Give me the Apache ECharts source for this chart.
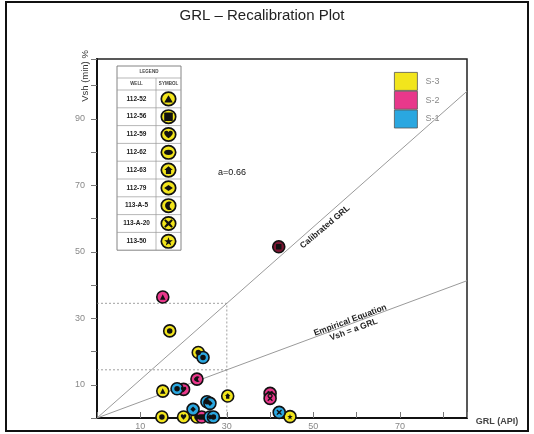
<!DOCTYPE html>
<html><head><meta charset="utf-8">
<script src="https://cdn.jsdelivr.net/npm/echarts@6/dist/echarts.min.js"></script>
<style>html,body{margin:0;padding:0;background:#fff}#c{width:534px;height:434px}</style>
</head><body><div id="c"></div>
<script>
// ---- data ----
const grl  = [15.2,16.8,23.4,24.5,23.1,15.2,18.5,20.0,30.2,25.4,26.1,22.2,15.0,20.0,23.1,24.2,26.1,26.9,40.0,40.0,42.1,44.6,42.0];
const vsh  = [36.4,26.2,19.7,18.2,11.7,8.1,8.8,8.6,6.6,4.9,4.4,2.6,0.3,0.3,0.3,0.3,0.3,0.3,7.4,5.9,1.7,0.4,51.5];
const zone = ['S-2','S-3','S-3','S-1','S-2','S-3','S-1','S-2','S-3','S-1','S-1','S-1','S-3','S-3','S-3','S-2','S-1','S-1','S-2','S-2','S-1','S-3','S-0'];
const well = ['112-52','112-62','112-62','112-62','113-A-5','112-52','112-62','112-59','112-63','112-62','112-79','112-79','112-62','112-59','112-62','112-56','112-79','112-62','113-A-20','113-A-20','113-A-20','113-50','112-56'];
const zones = ['S-3','S-2','S-1'];
const wells = ['112-52','112-56','112-59','112-62','112-63','112-79','113-A-5','113-A-20','113-50'];
const calibratedLine = [[0,0],[85.5,98.3]];
const empiricalLine  = [[0,0],[85.5,41.3]];
const dashUpper = [[0,34.5],[30,34.5],[30,0]];
const dashLower = [[0,14.5],[30,14.5]];
const xTicksShown = [10,30,50,70];
const yTicksShown = [10,30,50,70,90];

// ---- styles ----
const zoneColor = {'S-3':'#f2e51c','S-2':'#e8388b','S-1':'#2aa7e0','S-0':'#7a1632'};
const P = {
  heart:'M12,21 C5,15 0,11 0,6 C0,2.5 2.5,0 6,0 C8.5,0 10.5,1.5 12,3.5 C13.5,1.5 15.5,0 18,0 C21.5,0 24,2.5 24,6 C24,11 19,15 12,21 Z',
  star:'M12,0 L14.9,8.3 L23.4,8.3 L16.6,13.5 L19.1,21.8 L12,16.8 L4.9,21.8 L7.4,13.5 L0.6,8.3 L9.1,8.3 Z',
  moon:'M16,3 A10,10 0 1 0 16,19 A9,9 0 0 1 16,3 Z',
  cross:'M3,0 L10,6 L17,0 L20,3 L14,10 L20,17 L17,20 L10,14 L3,20 L0,17 L6,10 L0,3 Z',
  house:'M10,0 L20,9 L16,9 L16,18 L4,18 L4,9 L0,9 Z',
  oval:'M0,6 A10,6 0 1 0 20,6 A10,6 0 1 0 0,6 Z',
  tri:'M10,0 L20,17 L0,17 Z',
  sq:'M2,0 L18,0 Q20,0 20,2 L20,18 Q20,20 18,20 L2,20 Q0,20 0,18 L0,2 Q0,0 2,0 Z',
  dia:'M10,0 L20,7 L10,14 L0,7 Z'
};
const glyph = {'112-52':P.tri,'112-56':P.sq,'112-59':P.heart,'112-62':P.oval,'112-63':P.house,'112-79':P.dia,'113-A-5':P.moon,'113-A-20':P.cross,'113-50':P.star};

const series = [];
series.push({type:'line',data:calibratedLine,symbol:'none',silent:true,lineStyle:{color:'#9a9a9a',width:1},z:1});
series.push({type:'line',data:empiricalLine,symbol:'none',silent:true,lineStyle:{color:'#9a9a9a',width:1},z:1});
series.push({type:'line',data:dashUpper,symbol:'none',silent:true,lineStyle:{color:'#888',width:0.8,type:[2,2]},z:1});
series.push({type:'line',data:dashLower,symbol:'none',silent:true,lineStyle:{color:'#888',width:0.8,type:[2,2]},z:1});
['S-0','S-3','S-2','S-1'].forEach(z=>{
  const d=[]; grl.forEach((x,i)=>{ if(zone[i]===z) d.push([x,vsh[i]]); });
  series.push({name:z,type:'scatter',data:d,symbol:'circle',symbolSize:12,z:3,
    itemStyle:{color:zoneColor[z],borderColor:'#111',borderWidth:1.6,opacity:1}});
});
series.push({type:'scatter',z:4,silent:true,
  data:grl.map((x,i)=>({value:[x,vsh[i]],symbol:'path://'+glyph[well[i]],symbolSize:5.5})),
  itemStyle:{color:'#111',opacity:1}});

// ---- legend table ----
const tx=117, ty=66, tw=64, colX=156, h1=12, h2=12, rowH=17.8;
const tH = h1+h2+rowH*wells.length;
series.push({type:'custom',coordinateSystem:'none',silent:true,z:20,
  data:wells.map((w,i)=>[i]),
  renderItem:function(params,api){
    const i = api.value(0); const w = wells[i];
    const y0 = ty+h1+h2+rowH*i, cy=y0+rowH/2, cx=(colX+tx+tw)/2;
    return {type:'group',children:[
      {type:'ellipse',shape:{cx:cx,cy:cy,rx:7.2,ry:6.7},style:{fill:'#f2e51c',stroke:'#111',lineWidth:1.7}},
      {type:'path',shape:{pathData:glyph[w],x:cx-4.3,y:cy-4.3,width:8.6,height:8.6,layout:'center'},style:{fill:'#111'}}
    ]};
  }});

const g = [];
g.push({type:'rect',shape:{x:tx,y:ty,width:tw,height:tH},style:{fill:'#fff',stroke:'#777',lineWidth:0.9},z:10});
g.push({type:'line',shape:{x1:tx,y1:ty+h1,x2:tx+tw,y2:ty+h1},style:{stroke:'#999',lineWidth:0.7},z:11});
g.push({type:'line',shape:{x1:colX,y1:ty+h1,x2:colX,y2:ty+tH},style:{stroke:'#999',lineWidth:0.7},z:11});
g.push({type:'text',x:tx+tw/2,y:ty+h1/2,style:{text:'LEGEND',font:'bold 4.5px Liberation Sans',fill:'#444',align:'center',verticalAlign:'middle'},z:12});
g.push({type:'text',x:(tx+colX)/2,y:ty+h1+h2/2,style:{text:'WELL',font:'bold 4.5px Liberation Sans',fill:'#444',align:'center',verticalAlign:'middle'},z:12});
g.push({type:'text',x:(colX+tx+tw)/2,y:ty+h1+h2/2,style:{text:'SYMBOL',font:'bold 4.5px Liberation Sans',fill:'#444',align:'center',verticalAlign:'middle'},z:12});
wells.forEach((w,i)=>{
  const y0 = ty+h1+h2+rowH*i;
  g.push({type:'line',shape:{x1:tx,y1:y0,x2:tx+tw,y2:y0},style:{stroke:'#999',lineWidth:0.7},z:11});
  g.push({type:'text',x:(tx+colX)/2,y:y0+rowH/2,style:{text:w,font:'bold 6.5px Liberation Sans',fill:'#222',align:'center',verticalAlign:'middle'},z:12});
});
// texts
g.push({type:'text',x:262,y:16,style:{text:'GRL – Recalibration Plot',font:'15px Liberation Sans',fill:'#222',align:'center',verticalAlign:'middle'}});
g.push({type:'text',x:85,y:76,rotation:Math.PI/2,style:{text:'Vsh (min) %',font:'9.5px Liberation Sans',fill:'#333',align:'center',verticalAlign:'middle'}});
g.push({type:'text',x:497,y:422,style:{text:'GRL (API)',font:'bold 9px Liberation Sans',fill:'#444',align:'center',verticalAlign:'middle'}});
g.push({type:'text',x:232,y:173,style:{text:'a=0.66',font:'9px Liberation Sans',fill:'#111',align:'center',verticalAlign:'middle'}});
g.push({type:'text',x:325,y:227,rotation:40*Math.PI/180,style:{text:'Calibrated GRL',font:'bold 8.5px Liberation Sans',fill:'#222',align:'center',verticalAlign:'middle'}});
g.push({type:'text',x:352,y:325,rotation:20.3*Math.PI/180,style:{text:'Empirical Equation\nVsh = a GRL',font:'bold 8.5px Liberation Sans',fill:'#222',align:'center',verticalAlign:'middle',lineHeight:10}});
// outer frame
g.push({type:'rect',shape:{x:6,y:2,width:522,height:429},style:{fill:'none',stroke:'#111',lineWidth:2},z:0});

const chart = echarts.init(document.getElementById('c'),null,{renderer:'canvas'});
chart.setOption({
  animation:false,
  backgroundColor:'#fff',
  textStyle:{fontFamily:'Liberation Sans'},
  grid:{left:97,right:67,top:59,bottom:16,show:true,borderColor:'#222',borderWidth:1.5},
  legend:{data:zones,orient:'vertical',left:389,top:67,itemWidth:23,itemHeight:18,itemGap:0,icon:'rect',
    textStyle:{color:'#888',fontSize:9,padding:[0,0,0,3]},itemStyle:{borderColor:'#555',borderWidth:0.8},selectedMode:false},
  xAxis:{type:'value',min:0,max:85.5,interval:10,
    axisLine:{show:true,lineStyle:{color:'#111',width:2}},
    axisTick:{show:true,inside:true,length:6,lineStyle:{color:'#777'}},
    axisLabel:{color:'#888',fontSize:9,margin:4,formatter:v=>xTicksShown.includes(v)?String(v):''},
    splitLine:{show:false}},
  yAxis:{type:'value',min:0,max:108,interval:10,
    axisLine:{show:true,lineStyle:{color:'#111',width:2}},
    axisTick:{show:true,inside:false,length:6,lineStyle:{color:'#777'}},
    axisLabel:{color:'#888',fontSize:9,margin:12,formatter:v=>yTicksShown.includes(v)?String(v):''},
    splitLine:{show:false}},
  series:series,
  graphic:g
});
</script></body></html>
